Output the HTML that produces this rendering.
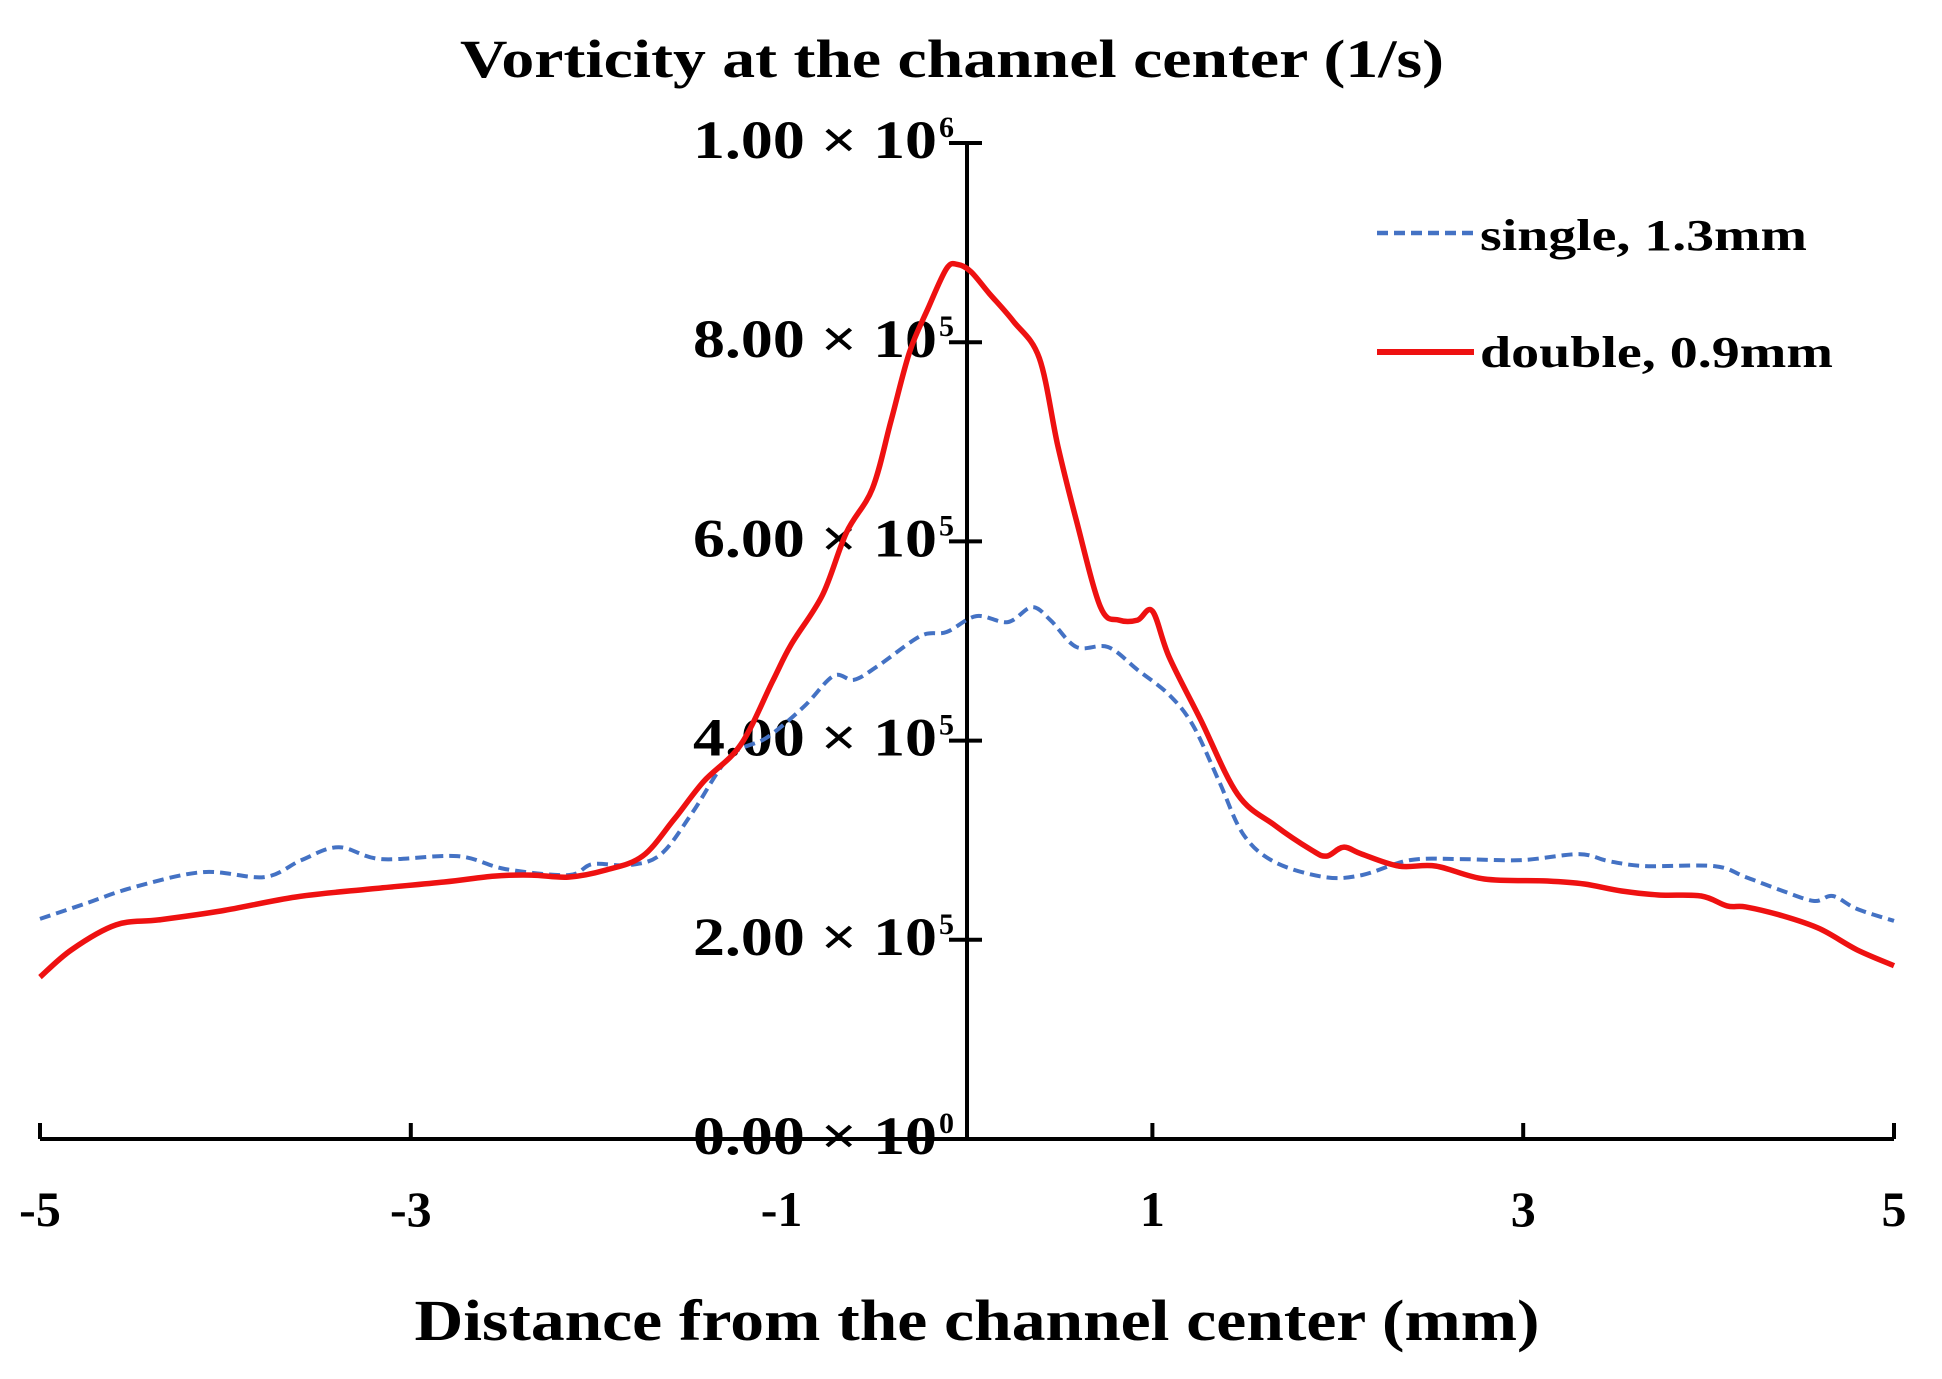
<!DOCTYPE html>
<html><head><meta charset="utf-8"><style>
html,body{margin:0;padding:0;background:#fff;}
svg{display:block;}
text{font-family:"Liberation Serif",serif;font-weight:bold;fill:#000;}
</style></head><body>
<svg id="chart" width="1942" height="1379" viewBox="0 0 1942 1379" xmlns="http://www.w3.org/2000/svg">
<text x="952" y="77" text-anchor="middle" font-size="54" textLength="984" lengthAdjust="spacingAndGlyphs">Vorticity at the channel center (1/s)</text>
<text x="977" y="1340" text-anchor="middle" font-size="58" textLength="1125" lengthAdjust="spacingAndGlyphs">Distance from the channel center (mm)</text>
<g id="axes"></g>
<g id="series"></g>
<g>
<line x1="1377" y1="233" x2="1474" y2="233" stroke="#4472C4" stroke-width="4.5" stroke-dasharray="11,6"/>
<text x="1480" y="250" font-size="44" textLength="327" lengthAdjust="spacingAndGlyphs">single, 1.3mm</text>
<line x1="1377" y1="352" x2="1474" y2="352" stroke="#EE1111" stroke-width="6"/>
<text x="1480" y="367" font-size="44" textLength="353" lengthAdjust="spacingAndGlyphs">double, 0.9mm</text>
</g>
</svg>
<script>
const xTicks = [-5, -3, -1, 1, 3, 5];
const yTicks = [0, 2, 4, 6, 8, 10];
const yTickMantissa = ["0.00", "2.00", "4.00", "6.00", "8.00", "1.00"];
const yTickExp = ["0", "5", "5", "5", "5", "6"];
// series values: x in mm, vorticity in units of 1e5 1/s
const doubleX = [-5.00,-4.83,-4.59,-4.36,-4.02,-3.62,-3.22,-2.82,-2.55,-2.35,-2.15,-1.95,-1.75,-1.58,-1.42,-1.22,-1.05,-0.95,-0.78,-0.65,-0.51,-0.41,-0.31,-0.21,-0.11,-0.05,0.02,0.12,0.25,0.39,0.49,0.59,0.72,0.82,0.92,1.00,1.09,1.26,1.46,1.66,1.86,1.94,2.03,2.13,2.33,2.53,2.79,3.13,3.33,3.53,3.73,3.96,4.10,4.20,4.40,4.60,4.80,5.00];
const doubleV = [1.625,1.90,2.15,2.20,2.29,2.43,2.51,2.58,2.64,2.65,2.63,2.70,2.84,3.21,3.59,3.96,4.59,4.96,5.46,6.09,6.53,7.21,7.90,8.34,8.74,8.78,8.71,8.49,8.21,7.84,6.96,6.21,5.34,5.21,5.21,5.30,4.84,4.21,3.46,3.15,2.90,2.84,2.93,2.86,2.74,2.74,2.61,2.59,2.56,2.49,2.45,2.44,2.34,2.33,2.24,2.11,1.90,1.74];
const singleX = [-5.00,-4.76,-4.49,-4.12,-3.79,-3.59,-3.39,-3.16,-2.75,-2.49,-2.15,-2.02,-1.82,-1.65,-1.48,-1.28,-1.08,-0.88,-0.72,-0.61,-0.48,-0.25,-0.11,0.05,0.22,0.35,0.45,0.59,0.76,0.92,1.09,1.22,1.36,1.49,1.66,1.93,2.13,2.39,2.66,2.99,3.30,3.46,3.66,4.03,4.20,4.40,4.57,4.67,4.80,5.00];
const singleV = [2.21,2.36,2.53,2.68,2.63,2.80,2.93,2.81,2.84,2.71,2.65,2.76,2.75,2.86,3.28,3.84,4.03,4.34,4.65,4.61,4.75,5.05,5.09,5.25,5.19,5.34,5.21,4.94,4.94,4.71,4.46,4.15,3.59,3.06,2.78,2.63,2.65,2.80,2.81,2.80,2.86,2.79,2.74,2.74,2.63,2.49,2.39,2.44,2.31,2.19];

const NS = "http://www.w3.org/2000/svg";
const X0 = 40, X1 = 1894, Y0 = 1139, Y1 = 143;
function xScale(v){ return X0 + (v + 5) / 10 * (X1 - X0); }
function yScale(v){ return Y0 - v / 10 * (Y0 - Y1); }
const axes = document.getElementById('axes');
const series = document.getElementById('series');
function mk(tag, attrs, parent){
  const el = document.createElementNS(NS, tag);
  for (const k in attrs) el.setAttribute(k, attrs[k]);
  parent.appendChild(el);
  return el;
}
const ax0 = xScale(0);
let l = mk('line', {x1:X0, y1:Y0, x2:X1, y2:Y0, stroke:'#000', 'stroke-width':4}, axes);


l = mk('line', {x1:ax0, y1:Y0, x2:ax0, y2:Y1, stroke:'#000', 'stroke-width':4}, axes);


xTicks.forEach(t => {
  const x = xScale(t);
  const tk = mk('line', {x1:x, y1:Y0, x2:x, y2:Y0-16, stroke:'#000', 'stroke-width':4}, axes);
  
  
  const tx = mk('text', {x:x, y:1226, 'text-anchor':'middle', 'font-size':50}, axes);
  tx.textContent = String(t);
  
  
});
yTicks.forEach((t, i) => {
  const y = yScale(t);
  const tk = mk('line', {x1:ax0-18, y1:y, x2:ax0+15, y2:y, stroke:'#000', 'stroke-width':4}, axes);
  
  
  const tx = mk('text', {x:937, y:y+15, 'text-anchor':'end', 'font-size':54, textLength:244, lengthAdjust:'spacingAndGlyphs'}, axes);
  tx.textContent = yTickMantissa[i] + " \u00d7 10";
  
  
  const sp = mk('text', {x:939, y:y-6, 'font-size':30}, axes);
  sp.textContent = yTickExp[i];
  
  
});
function pathFor(xs, vs){
  const p = xs.map((x, i) => [xScale(x), yScale(vs[i])]);
  let d = 'M' + p[0][0].toFixed(1) + ' ' + p[0][1].toFixed(1);
  for (let i = 0; i < p.length - 1; i++) {
    const p0 = p[Math.max(0, i-1)], p1 = p[i], p2 = p[i+1], p3 = p[Math.min(p.length-1, i+2)];
    const c1x = p1[0] + (p2[0]-p0[0])/6, c1y = p1[1] + (p2[1]-p0[1])/6;
    const c2x = p2[0] - (p3[0]-p1[0])/6, c2y = p2[1] - (p3[1]-p1[1])/6;
    d += ' C' + c1x.toFixed(1) + ' ' + c1y.toFixed(1) + ' ' + c2x.toFixed(1) + ' ' + c2y.toFixed(1) + ' ' + p2[0].toFixed(1) + ' ' + p2[1].toFixed(1);
  }
  return d;
}
const ps = mk('path', {d:pathFor(singleX, singleV), fill:'none', stroke:'#4472C4', 'stroke-width':4, 'stroke-dasharray':'11,6', 'stroke-linejoin':'round'}, series);


const pd = mk('path', {d:pathFor(doubleX, doubleV), fill:'none', stroke:'#EE1111', 'stroke-width':5.5, 'stroke-linejoin':'round'}, series);


</script>
</body></html>
